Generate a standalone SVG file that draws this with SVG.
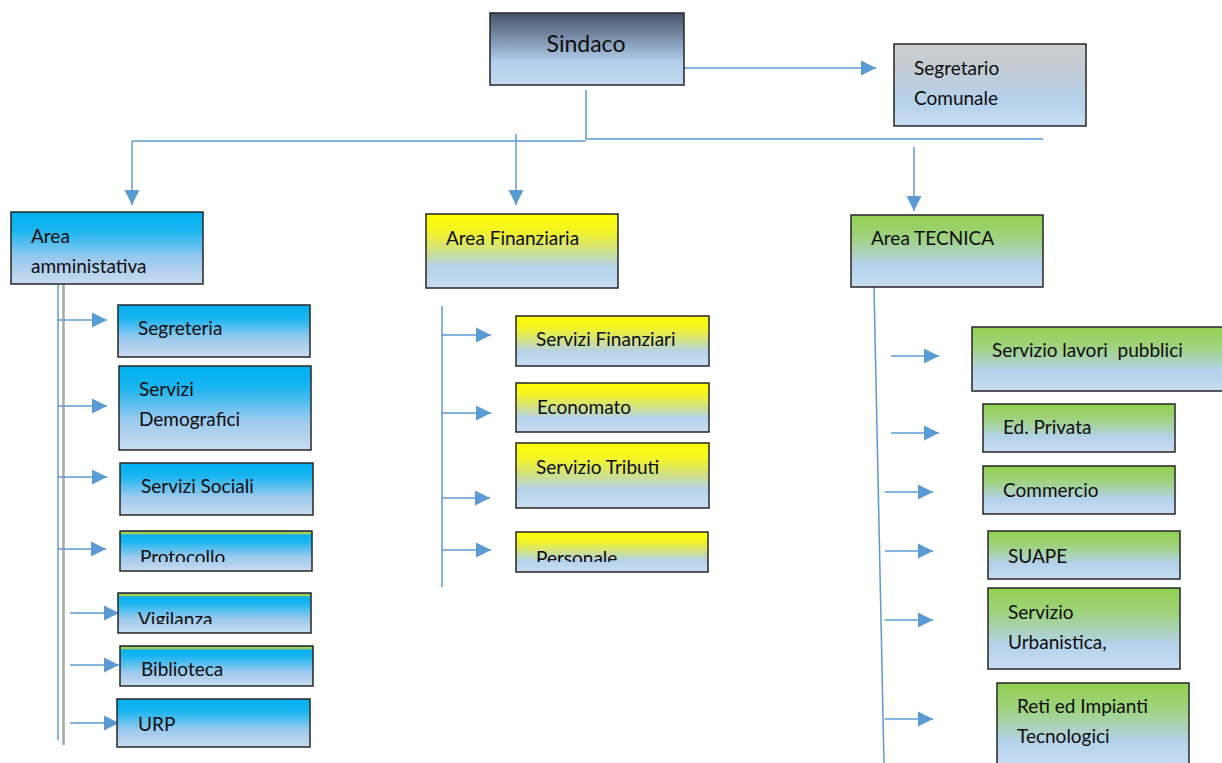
<svg xmlns="http://www.w3.org/2000/svg" width="1222" height="763" viewBox="0 0 1222 763">
<defs>
<linearGradient id="gBlue" x1="0" y1="0" x2="0" y2="1"><stop offset="0" stop-color="#00b0f0"/><stop offset="0.25" stop-color="#18b4ef"/><stop offset="0.65" stop-color="#9ccaee"/><stop offset="0.84" stop-color="#b5d2ec"/><stop offset="1" stop-color="#c9ddf1"/></linearGradient>
<linearGradient id="gYellow" x1="0" y1="0" x2="0" y2="1"><stop offset="0" stop-color="#ffff00"/><stop offset="0.25" stop-color="#f2f32a"/><stop offset="0.5" stop-color="#cfe08a"/><stop offset="0.72" stop-color="#b5d2ec"/><stop offset="1" stop-color="#c9ddf1"/></linearGradient>
<linearGradient id="gGreen" x1="0" y1="0" x2="0" y2="1"><stop offset="0" stop-color="#92d050"/><stop offset="0.3" stop-color="#9fd27c"/><stop offset="0.7" stop-color="#b5d2ec"/><stop offset="1" stop-color="#c9ddf1"/></linearGradient>
<linearGradient id="gGray" x1="0" y1="0" x2="0" y2="1"><stop offset="0" stop-color="#cdcdcd"/><stop offset="0.3" stop-color="#c3cbd4"/><stop offset="0.72" stop-color="#b5d2ec"/><stop offset="1" stop-color="#c9ddf1"/></linearGradient>
<linearGradient id="gSlate" x1="0" y1="0" x2="0" y2="1"><stop offset="0" stop-color="#44546a"/><stop offset="0.35" stop-color="#7c90ab"/><stop offset="0.68" stop-color="#b2cfeb"/><stop offset="1" stop-color="#c4daf0"/></linearGradient>
<linearGradient id="gStripe" x1="0" y1="0" x2="0" y2="1"><stop offset="0" stop-color="#92d050"/><stop offset="0.4" stop-color="#c8d030"/><stop offset="1" stop-color="#00b0f0"/></linearGradient>
<marker id="arr" markerUnits="userSpaceOnUse" markerWidth="16" markerHeight="16" viewBox="0 0 16 16" refX="15" refY="8" orient="auto"><path d="M0,0.5 L15,8 L0,15.5 Z" fill="#5b9bd5"/></marker>
<clipPath id="cProt"><rect x="120" y="531" width="193" height="31"/></clipPath>
<clipPath id="cVig"><rect x="118" y="593" width="193" height="31"/></clipPath>
<clipPath id="cPers"><rect x="516" y="532" width="193" height="30"/></clipPath>
</defs>
<style>
.box{stroke:#262626;stroke-width:1.5}
.t{font-family:Lato,"Open Sans","Liberation Sans",sans-serif;font-size:19px;fill:#0d0d0d}
.big{font-size:23px}
.pre{white-space:pre}
.ln{stroke:#5b9bd5;stroke-width:1.5;fill:none}
.ar{stroke:#5b9bd5;stroke-width:1.5;fill:none;marker-end:url(#arr)}
</style>
<g id="connectors">
<line class="ar" x1="684" y1="68" x2="876" y2="68"/>
<polyline class="ln" points="586,90 586,139 1043,139"/>
<polyline class="ln" points="586,141 132,141"/>
<line class="ar" x1="132" y1="141" x2="132" y2="205"/>
<line class="ar" x1="516" y1="134" x2="516" y2="205"/>
<line class="ar" x1="914" y1="147" x2="914" y2="211"/>
<line class="ln" x1="58" y1="276" x2="58" y2="740"/>
<line x1="63.5" y1="284" x2="63.5" y2="745" stroke="#a6a6a6" stroke-width="2.5"/>
<line class="ar" x1="58" y1="320" x2="107" y2="320"/>
<line class="ar" x1="58" y1="406" x2="107" y2="406"/>
<line class="ar" x1="58" y1="477" x2="107" y2="477"/>
<line class="ar" x1="58" y1="549" x2="106" y2="549"/>
<line class="ar" x1="70" y1="613" x2="119" y2="613"/>
<line class="ar" x1="70" y1="665" x2="119" y2="665"/>
<line class="ar" x1="70" y1="723" x2="119" y2="723"/>
<line class="ln" x1="442" y1="306" x2="442" y2="587"/>
<line class="ar" x1="442" y1="335" x2="491" y2="335"/>
<line class="ar" x1="442" y1="413" x2="491" y2="413"/>
<line class="ar" x1="442" y1="498" x2="490" y2="498"/>
<line class="ar" x1="442" y1="550" x2="491" y2="550"/>
<line class="ln" x1="874" y1="287" x2="884" y2="763"/>
<line class="ar" x1="891" y1="356" x2="939" y2="356"/>
<line class="ar" x1="891" y1="433" x2="939" y2="433"/>
<line class="ar" x1="885" y1="492" x2="933" y2="492"/>
<line class="ar" x1="885" y1="551" x2="933" y2="551"/>
<line class="ar" x1="885" y1="620" x2="933" y2="620"/>
<line class="ar" x1="885" y1="719" x2="933" y2="719"/>
</g>
<g id="sindaco"><rect class="box" x="490" y="13" width="194" height="72" fill="url(#gSlate)"/><text class="t big" x="586" y="52" text-anchor="middle">Sindaco</text></g>
<g id="segretario"><rect class="box" x="894" y="44" width="192" height="82" fill="url(#gGray)"/><text class="t" x="914" y="75">Segretario</text><text class="t" x="914" y="105">Comunale</text></g>
<g id="area-amm"><rect class="box" x="11" y="212" width="192" height="72" fill="url(#gBlue)"/><text class="t" x="31" y="243">Area</text><text class="t" x="31" y="273">amministativa</text></g>
<g id="segreteria"><rect class="box" x="118" y="305" width="192" height="52" fill="url(#gBlue)"/><text class="t" x="138" y="335">Segreteria</text></g>
<g id="demografici"><rect class="box" x="119" y="366" width="192" height="84" fill="url(#gBlue)"/><text class="t" x="139" y="396">Servizi</text><text class="t" x="139" y="426">Demografici</text></g>
<g id="sociali"><rect class="box" x="120" y="463" width="193" height="52" fill="url(#gBlue)"/><text class="t" x="141" y="493">Servizi Sociali</text></g>
<g id="protocollo"><rect class="box" x="120" y="531" width="192" height="40" fill="url(#gBlue)"/><rect x="121" y="532" width="190" height="3" fill="url(#gStripe)"/><text class="t" x="140" y="564" clip-path="url(#cProt)">Protocollo</text></g>
<g id="vigilanza"><rect class="box" x="118" y="593" width="193" height="40" fill="url(#gBlue)"/><rect x="119" y="594" width="191" height="3" fill="url(#gStripe)"/><text class="t" x="138" y="626" clip-path="url(#cVig)">Vigilanza</text></g>
<g id="biblioteca"><rect class="box" x="120" y="646" width="193" height="40" fill="url(#gBlue)"/><rect x="121" y="647" width="191" height="3" fill="url(#gStripe)"/><text class="t" x="141" y="676">Biblioteca</text></g>
<g id="urp"><rect class="box" x="117" y="699" width="193" height="48" fill="url(#gBlue)"/><text class="t" x="138" y="731">URP</text></g>
<g id="area-fin"><rect class="box" x="426" y="214" width="192" height="74" fill="url(#gYellow)"/><text class="t" x="446" y="245">Area Finanziaria</text></g>
<g id="serv-fin"><rect class="box" x="516" y="316" width="193" height="50" fill="url(#gYellow)"/><text class="t" x="536" y="346">Servizi Finanziari</text></g>
<g id="economato"><rect class="box" x="516" y="383" width="193" height="49" fill="url(#gYellow)"/><text class="t" x="537" y="414">Economato</text></g>
<g id="tributi"><rect class="box" x="516" y="443" width="193" height="65" fill="url(#gYellow)"/><text class="t" x="536" y="474">Servizio Tributi</text></g>
<g id="personale"><rect class="box" x="516" y="532" width="192" height="40" fill="url(#gYellow)"/><text class="t" x="536" y="565" clip-path="url(#cPers)">Personale</text></g>
<g id="area-tec"><rect class="box" x="851" y="215" width="192" height="72" fill="url(#gGreen)"/><text class="t" x="871" y="245">Area TECNICA</text></g>
<g id="lavori"><rect class="box" x="972" y="327" width="252" height="64" fill="url(#gGreen)"/><text class="t pre" x="992" y="357">Servizio lavori  pubblici</text></g>
<g id="privata"><rect class="box" x="983" y="404" width="192" height="48" fill="url(#gGreen)"/><text class="t" x="1003" y="434">Ed. Privata</text></g>
<g id="commercio"><rect class="box" x="983" y="466" width="192" height="48" fill="url(#gGreen)"/><text class="t" x="1003" y="497">Commercio</text></g>
<g id="suape"><rect class="box" x="988" y="531" width="192" height="48" fill="url(#gGreen)"/><text class="t" x="1008" y="563">SUAPE</text></g>
<g id="urbanistica"><rect class="box" x="988" y="588" width="192" height="81" fill="url(#gGreen)"/><text class="t" x="1008" y="619">Servizio</text><text class="t" x="1008" y="649">Urbanistica,</text></g>
<g id="reti"><rect class="box" x="997" y="683" width="192" height="84" fill="url(#gGreen)"/><text class="t" x="1017" y="713">Reti ed Impianti</text><text class="t" x="1017" y="743">Tecnologici</text></g>
</svg>
